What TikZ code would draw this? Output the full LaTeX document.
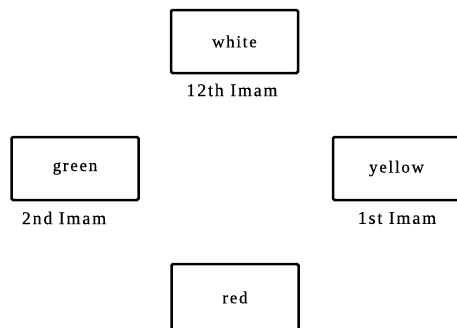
\documentclass[tikz,border=0pt]{standalone}
\usepackage{fontspec}
\setmainfont{Liberation Serif}[LetterSpace=10,FakeBold=0.4]
\usetikzlibrary{positioning}

\begin{document}
\begin{tikzpicture}[x=1pt,y=-1pt,
		colourbox/.style={draw, line width=2.5pt, rounded corners=1.5pt,
			minimum width=127pt, minimum height=63pt, font=\fontsize{17}{20}\selectfont},
		imamlabel/.style={font=\fontsize{18}{21}\selectfont, inner sep=0pt}]
		\clip (0,0) rectangle (457,327);
	
		\node[colourbox] (white) at (234.5,41.5) {white};
		\node[colourbox] (green) at (75,168.5) {green};
		\node[colourbox] (yellow) at (396.5,168.5) {yellow};
		\node[colourbox, minimum height=67pt] (red) at (235,297.5) {red};
	
		\node[imamlabel] (twelfth) at (232,90) {12th Imam};
		\node[imamlabel] (second) at (64,218) {2nd Imam};
		\node[imamlabel] (first) at (397,218) {1st Imam};
	\end{tikzpicture}
\end{document}
